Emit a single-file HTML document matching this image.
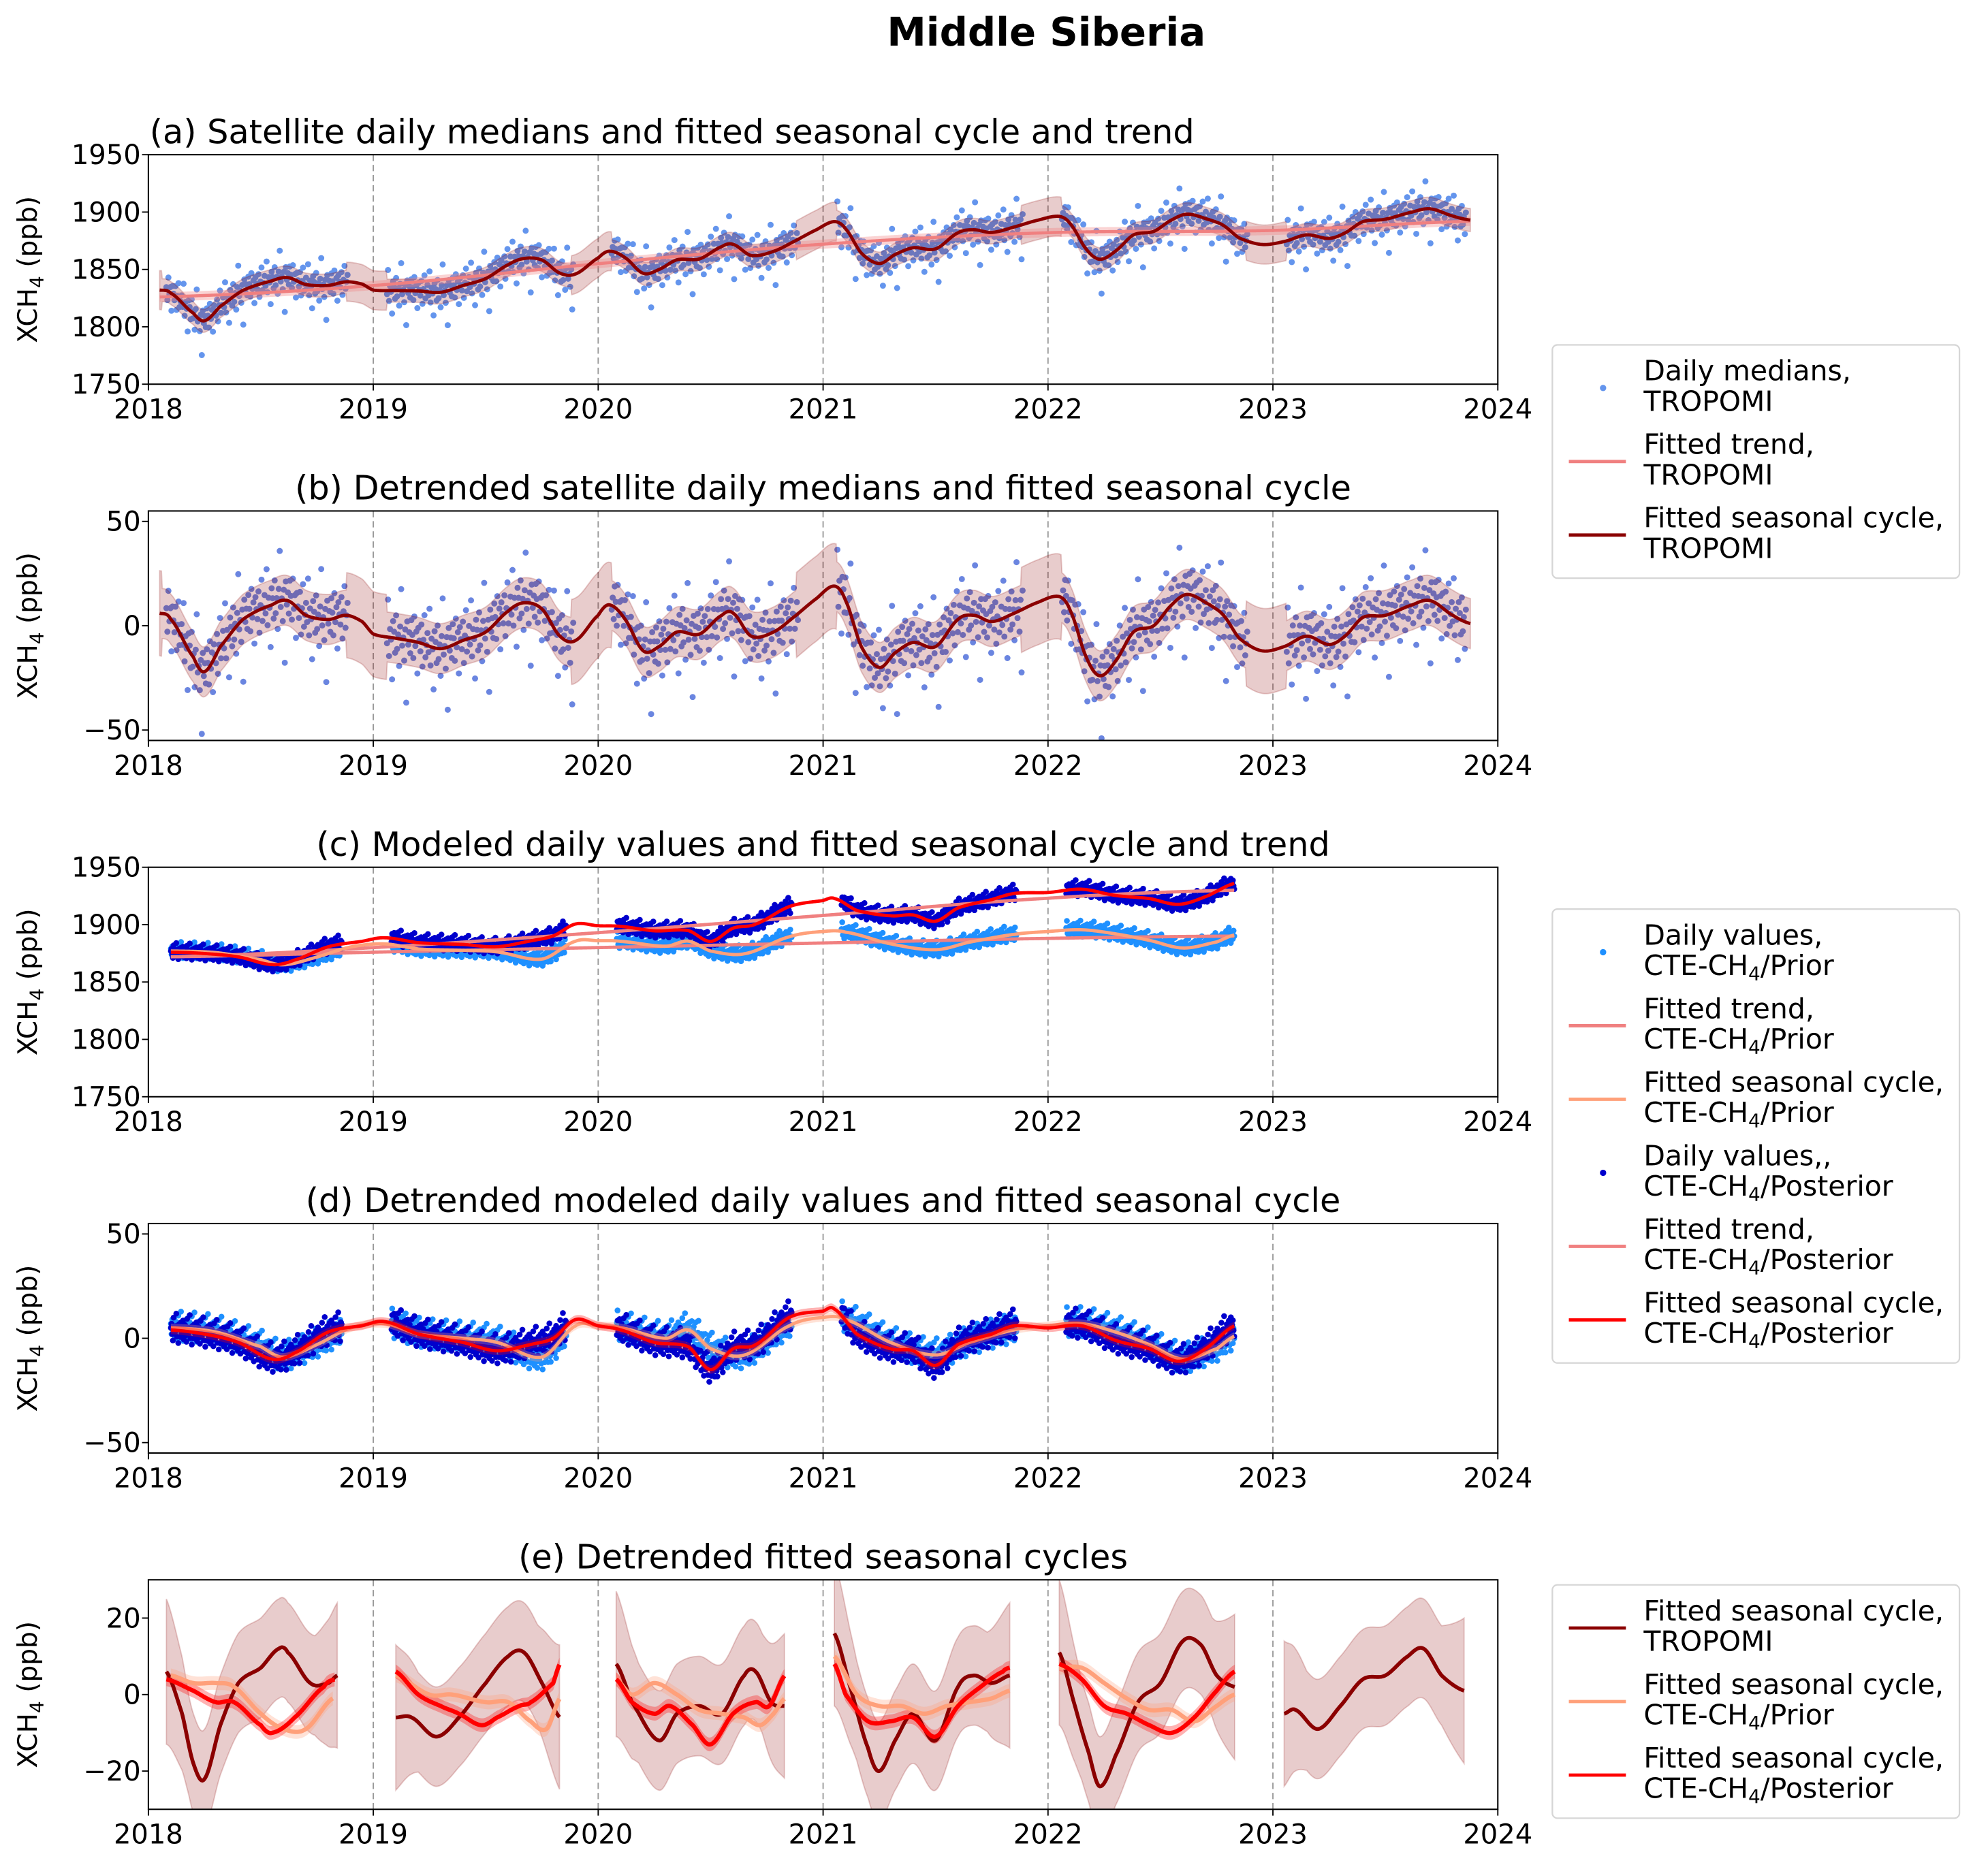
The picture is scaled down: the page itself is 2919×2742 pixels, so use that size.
<!DOCTYPE html>
<html><head><meta charset="utf-8"><style>
html,body{margin:0;padding:0;background:#fff;}
svg{display:block;font-family:"DejaVu Sans","Liberation Sans",sans-serif;}
</style></head><body>
<svg id="fig" width="2919" height="2742" viewBox="0 0 1567.5 1472.5" preserveAspectRatio="none" xmlns="http://www.w3.org/2000/svg">
<rect width="1570" height="1475" fill="#fff"/>
<text x="825" y="36" font-size="31" font-weight="bold" text-anchor="middle">Middle Siberia</text>
<g id="plots"></g>
<g id="legends"></g>
</svg>
<script>
// ---------- data ----------
const tropoSeasT = [2018.05,2018.1,2018.2,2018.25,2018.32,2018.42,2018.55,2018.62,2018.7,2018.8,2018.88,2018.95,2019.0,2019.1,2019.2,2019.3,2019.4,2019.5,2019.6,2019.67,2019.75,2019.83,2019.9,2020.0,2020.05,2020.12,2020.2,2020.27,2020.35,2020.45,2020.55,2020.6,2020.68,2020.78,2020.88,2020.97,2021.05,2021.1,2021.17,2021.25,2021.32,2021.4,2021.5,2021.6,2021.67,2021.75,2021.85,2021.95,2022.05,2022.1,2022.17,2022.23,2022.3,2022.38,2022.47,2022.55,2022.62,2022.72,2022.78,2022.85,2022.95,2023.05,2023.15,2023.25,2023.32,2023.4,2023.5,2023.62,2023.7,2023.8,2023.88];
const tropoSeasV = [6,3,-15,-22,-10,3,10,12,5,3,5,2,-4,-6,-8,-11,-7,-3,7,11,8,-5,-7,5,10,3,-12,-10,-3,-4,5,6,-5,-3,5,13,19,12,-10,-20,-13,-8,-10,3,5,2,6,11,14,7,-15,-24,-17,-3,0,10,15,10,5,-6,-12,-10,-5,-9,-5,4,5,10,12,5,1];
const tropoTrendT = [2018.05,2019,2020,2021,2022,2023,2023.88];
const tropoTrendV = [1826,1836,1855,1872,1882,1884,1892];
const priorTrendT = [2018.1,2019,2020,2021,2022,2022.83];
const priorTrendV = [1872,1876,1880,1884,1888,1890];
const postTrendT = [2018.1,2019,2020,2021,2022,2022.83];
const postTrendV = [1872,1880,1893,1908,1923,1930];
const postSeasT = [2018.1,2018.25,2018.4,2018.55,2018.65,2018.8,2018.95,2019.05,2019.2,2019.4,2019.55,2019.7,2019.8,2019.9,2020.0,2020.1,2020.25,2020.4,2020.5,2020.6,2020.7,2020.85,2021.0,2021.05,2021.15,2021.3,2021.4,2021.5,2021.6,2021.75,2021.85,2022.0,2022.15,2022.3,2022.45,2022.58,2022.7,2022.83];
const postSeasV = [4,2,-2,-10,-7,3,6,8,2,-2,-6,-3,0,9,6,4,-2,-4,-15,-5,-3,10,13,14,2,-5,-6,-13,-3,2,6,5,6,-1,-5,-11,-5,6];
const priorSeasT = [2018.1,2018.3,2018.5,2018.6,2018.75,2018.9,2019.05,2019.2,2019.4,2019.55,2019.75,2019.9,2020.0,2020.1,2020.3,2020.4,2020.5,2020.65,2020.85,2021.0,2021.1,2021.3,2021.5,2021.65,2021.85,2022.0,2022.15,2022.3,2022.45,2022.6,2022.75,2022.83];
const priorSeasV = [5,3,-4,-9,-3,5,7,2,0,-2,-9,6,6,5,0,4,-5,-8,6,10,9,-2,-8,-2,4,6,7,3,-3,-10,-5,1];
// residual scatter (ppb), cycled along observation days
const tropoResid = [3,-8,12,-2,5,-15,7,1,-4,9,-11,2,14,-6,0,6,-3,18,-9,4,-1,-20,8,3,-7,11,-5,2,-13,6,24,-3,1,-10,5,-30,9,-2,4,-6,10];
const modelResid = [2,-3,4,-1,0,5,-4,1,3,-2,-5,6,0,-1,2,8,-3,1,-6,3];
// panel (e): separate annual fits
const eTropo = {
 2018:[[.08,6],[.15,-5],[.2,-18],[.25,-22],[.32,-8],[.4,3],[.5,7],[.58,12],[.62,11],[.72,3],[.8,3],[.84,5]],
 2019:[[.1,-6],[.17,-6],[.28,-11],[.38,-6],[.5,3],[.6,10],[.67,11],[.75,3],[.83,-6]],
 2020:[[.08,8],[.15,-2],[.27,-12],[.35,-5],[.45,-3],[.55,-5],[.65,5],[.7,6],[.77,-2],[.83,-3]],
 2021:[[.05,16],[.12,2],[.2,-14],[.25,-20],[.32,-12],[.4,-5],[.5,-12],[.6,2],[.67,5],[.75,3],[.83,5]],
 2022:[[.05,11],[.12,-3],[.18,-15],[.23,-24],[.3,-16],[.4,-2],[.5,3],[.6,14],[.68,13],[.75,5],[.83,2]],
 2023:[[.05,-5],[.1,-4],[.2,-9],[.3,-3],[.4,4],[.5,5],[.6,10],[.67,12],[.75,5],[.85,1]]};
const ePrior = {
 2018:[[.1,5],[.2,3],[.3,3],[.38,2],[.5,-5],[.6,-9],[.7,-9],[.82,-1]],
 2019:[[.1,5],[.25,0],[.35,0],[.5,-2],[.6,-2],[.7,-7],[.77,-9],[.83,-1]],
 2020:[[.08,4],[.15,0],[.25,3],[.35,0],[.45,-4],[.55,-5],[.65,-6],[.72,-8],[.78,-5],[.83,-1]],
 2021:[[.05,10],[.15,0],[.25,-3],[.35,-3],[.45,-5],[.55,-3],[.65,-2],[.75,-1],[.83,1]],
 2022:[[.05,7],[.15,7],[.25,3],[.35,-1],[.45,-4],[.55,-4],[.65,-7],[.75,-3],[.83,0]]};
const ePost = {
 2018:[[.08,4],[.2,1],[.3,-2],[.38,-2],[.5,-8],[.55,-10],[.65,-6],[.78,2],[.83,4]],
 2019:[[.1,6],[.2,0],[.3,-3],[.38,-5],[.48,-8],[.55,-6],[.65,-3],[.7,-2],[.8,3],[.83,8]],
 2020:[[.08,4],[.15,-2],[.25,-5],[.32,-3],[.42,-8],[.5,-13],[.6,-5],[.7,-2],[.76,-3],[.83,5]],
 2021:[[.05,8],[.1,0],[.2,-7],[.3,-7],[.4,-6],[.5,-11],[.6,-3],[.7,2],[.8,6],[.83,7]],
 2022:[[.05,8],[.15,4],[.25,-3],[.35,-5],[.45,-8],[.55,-10],[.65,-6],[.75,1],[.83,6]]};
const xTicks = [2018,2019,2020,2021,2022,2023,2024];
const ticksLevel = [1750,1800,1850,1900,1950];
const ticksDetr = [-50,0,50];
const ticksE = [-20,0,20];

// ---------- helpers ----------
const NS='http://www.w3.org/2000/svg';
const plots=document.getElementById('plots');
const TICKF=21.5, TITLEF=26.5, YLF=21, LEGF=22;
function mk(tag,attrs,parent){const e=document.createElementNS(NS,tag);for(const k in attrs)e.setAttribute(k,attrs[k]);(parent||plots).appendChild(e);return e;}
function interp(xs,ys,t){
  if(t<=xs[0])return ys[0]; const n=xs.length; if(t>=xs[n-1])return ys[n-1];
  let i=0; while(t>xs[i+1])i++;
  const p0=ys[Math.max(i-1,0)],p1=ys[i],p2=ys[i+1],p3=ys[Math.min(i+2,n-1)];
  const u=(t-xs[i])/(xs[i+1]-xs[i]);
  const u2=u*u,u3=u2*u;
  return 0.5*((2*p1)+(-p0+p2)*u+(2*p0-5*p1+4*p2-p3)*u2+(-p0+3*p1-3*p2+p3)*u3);
}
const X0=117,X1=1181;
const xs=t=>X0+(t-2018)*(X1-X0)/6;
function panel(top,bot,ymin,ymax){return {top,bot,y:v=>bot-(v-ymin)*(bot-top)/(ymax-ymin)};}
const P={a:panel(122,303,1750,1950),b:panel(403,584,-55,55),c:panel(684,865,1750,1950),d:panel(965,1146,-55,55),e:panel(1246,1427,-30,30)};

function frame(key,name,yticks,title,titleX,anchor,gridYears){
  const p=P[key];
  const cp=mk('clipPath',{id:'clip-'+key});
  mk('rect',{x:X0,y:p.top,width:X1-X0,height:p.bot-p.top},cp);
  const g=mk('g',{'clip-path':'url(#clip-'+key+')'});
  
  
  gridYears.forEach(yr=>{const l=mk('line',{x1:xs(yr),x2:xs(yr),y1:p.top,y2:p.bot,stroke:'#999','stroke-width':1,'stroke-dasharray':'5,3'},g);
    
    });
  const t=mk('text',{x:titleX,y:p.top-9,'font-size':TITLEF,'text-anchor':anchor});t.textContent=title;
  
  
  yticks.forEach(v=>{mk('line',{x1:X0-5,x2:X0,y1:p.y(v),y2:p.y(v),stroke:'#000','stroke-width':1});
    const tx=mk('text',{x:X0-6,y:p.y(v)+7.5,'font-size':TICKF,'text-anchor':'end'});tx.textContent=v<0?'\u2212'+(-v):v;
    
    });
  xTicks.forEach(v=>{mk('line',{x1:xs(v),x2:xs(v),y1:p.bot,y2:p.bot+5,stroke:'#000','stroke-width':1});
    const tx=mk('text',{x:xs(v),y:p.bot+27,'font-size':TICKF,'text-anchor':'middle'});tx.textContent=v;
    
    });
  const yl=mk('text',{x:0,y:0,'font-size':YLF,'text-anchor':'middle',transform:`translate(29,${(p.top+p.bot)/2}) rotate(-90)`});
  yl.innerHTML='XCH<tspan font-size="15" dy="5">4</tspan><tspan dy="-5"> (ppb)</tspan>';
  
  
  return g;
}
function border(key){const p=P[key];const r=mk('rect',{x:X0,y:p.top,width:X1-X0,height:p.bot-p.top,fill:'none',stroke:'#000','stroke-width':1.1});
  
  }
function pathFrom(fn,t0,t1,yf){let d='';for(let t=t0;t<=t1+1e-9;t+=0.004){d+=(d?'L':'M')+xs(t).toFixed(2)+','+yf(fn(t)).toFixed(2);}return d;}
function bandFrom(fn,hw,t0,t1,yf){let up=[],dn=[];for(let t=t0;t<=t1+1e-9;t+=0.004){const v=fn(t),h=hw(t);up.push(xs(t).toFixed(2)+','+yf(v+h).toFixed(2));dn.push(xs(t).toFixed(2)+','+yf(v-h).toFixed(2));}
  return 'M'+up.join('L')+'L'+dn.reverse().join('L')+'Z';}
function obsDays(t0,t1,step,lo,hi){const out=[];for(let t=t0;t<=t1;t+=step){const f=t-Math.floor(t);if(f>=lo&&f<=hi)out.push(t);}return out;}

const tSeas=t=>interp(tropoSeasT,tropoSeasV,t);
const tTrend=t=>interp(tropoTrendT,tropoTrendV,t);
const prT=t=>interp(priorTrendT,priorTrendV,t);
const poT=t=>interp(postTrendT,postTrendV,t);
const prS=t=>interp(priorSeasT,priorSeasV,t);
const poS=t=>interp(postSeasT,postSeasV,t);
const gapHW=(base)=>t=>{const f=t-Math.floor(t);return (f>0.88||f<0.06)?base*1.7:base;};

// ---------- panel a ----------
let g=frame('a','panel-a',ticksLevel,'(a) Satellite daily medians and fitted seasonal cycle and trend',118,'start',[2019,2020,2021,2022,2023]);
const tropoDays=obsDays(2018.08,2023.86,0.0045,0.06,0.89);
tropoDays.forEach((t,i)=>{const c=mk('circle',{cx:xs(t),cy:P.a.y(tTrend(t)+tSeas(t)+tropoResid[i%tropoResid.length]),r:2.4,fill:'#6495ED'},g);
  
  });
let e=mk('path',{d:bandFrom(t=>tTrend(t)+tSeas(t),gapHW(10),2018.05,2023.88,P.a.y),fill:'#8B0000','fill-opacity':0.2,stroke:'#8B0000','stroke-opacity':0.2},g);


e=mk('path',{d:bandFrom(tTrend,()=>4,2018.05,2023.88,P.a.y),fill:'#F08080','fill-opacity':0.35},g);


e=mk('path',{d:pathFrom(tTrend,2018.05,2023.88,P.a.y),fill:'none',stroke:'#F08080','stroke-width':2.4},g);


e=mk('path',{d:pathFrom(t=>tTrend(t)+tSeas(t),2018.05,2023.88,P.a.y),fill:'none',stroke:'#8B0000','stroke-width':2.6},g);


border('a');

// ---------- panel b ----------
g=frame('b','panel-b',ticksDetr,'(b) Detrended satellite daily medians and fitted seasonal cycle',649,'middle',[2019,2020,2021,2022,2023]);
tropoDays.forEach((t,i)=>{const c=mk('circle',{cx:xs(t),cy:P.b.y(tSeas(t)+tropoResid[i%tropoResid.length]),r:2.4,fill:'#6a85e0'},g);
  
  });
e=mk('path',{d:bandFrom(tSeas,gapHW(12),2018.05,2023.88,P.b.y),fill:'#8B0000','fill-opacity':0.2,stroke:'#8B0000','stroke-opacity':0.2},g);


e=mk('path',{d:pathFrom(tSeas,2018.05,2023.88,P.b.y),fill:'none',stroke:'#8B0000','stroke-width':2.6},g);


border('b');

// ---------- panel c ----------
g=frame('c','panel-c',ticksLevel,'(c) Modeled daily values and fitted seasonal cycle and trend',649,'middle',[2019,2020,2021,2022,2023]);
const modelDays=obsDays(2018.1,2022.83,0.003,0.08,0.86);
modelDays.forEach((t,i)=>{const c=mk('circle',{cx:xs(t),cy:P.c.y(prT(t)+prS(t)+modelResid[i%modelResid.length]),r:2.3,fill:'#1E90FF'},g);
  
  });
modelDays.forEach((t,i)=>{const c=mk('circle',{cx:xs(t),cy:P.c.y(poT(t)+poS(t)+modelResid[(i+7)%modelResid.length]),r:2.3,fill:'#0000CD'},g);
  
  });
[[prT,'#F08080','prior-trend-line'],[poT,'#F08080','posterior-trend-line'],[t=>prT(t)+prS(t),'#FFA07A','prior-seasonal-line'],[t=>poT(t)+poS(t),'#FF0000','posterior-seasonal-line']].forEach(s=>{
  const l=mk('path',{d:pathFrom(s[0],2018.1,2022.83,P.c.y),fill:'none',stroke:s[1],'stroke-width':2.6},g);
  
  });
border('c');

// ---------- panel d ----------
g=frame('d','panel-d',ticksDetr,'(d) Detrended modeled daily values and fitted seasonal cycle',649,'middle',[2019,2020,2021,2022,2023]);
modelDays.forEach((t,i)=>{const c=mk('circle',{cx:xs(t),cy:P.d.y(prS(t)+modelResid[i%modelResid.length]),r:2.3,fill:'#1E90FF'},g);
  
  });
modelDays.forEach((t,i)=>{const c=mk('circle',{cx:xs(t),cy:P.d.y(poS(t)+modelResid[(i+7)%modelResid.length]),r:2.3,fill:'#0000CD'},g);
  
  });
[[prS,'#FFA07A','prior-seasonal-line'],[poS,'#FF0000','posterior-seasonal-line']].forEach(s=>{
  const b=mk('path',{d:bandFrom(s[0],()=>2,2018.1,2022.83,P.d.y),fill:s[1],'fill-opacity':0.3},g);
  
  
  const l=mk('path',{d:pathFrom(s[0],2018.1,2022.83,P.d.y),fill:'none',stroke:s[1],'stroke-width':2.6},g);
  
  });
border('d');

// ---------- panel e ----------
g=frame('e','panel-e',ticksE,'(e) Detrended fitted seasonal cycles',649,'middle',[2019,2020,2021,2022,2023]);
function seg(obj,yr){const a=obj[yr];const ts=a.map(p=>+yr+p[0]),vs=a.map(p=>p[1]);return {f:t=>interp(ts,vs,t),t0:ts[0],t1:ts[ts.length-1]};}
Object.keys(eTropo).forEach(yr=>{const s=seg(eTropo,yr);
  const b=mk('path',{d:bandFrom(s.f,t=>{const d=Math.min(t-s.t0,s.t1-t);return 13+Math.max(0,0.1-d)*60;},s.t0,s.t1,P.e.y),fill:'#8B0000','fill-opacity':0.2,stroke:'#8B0000','stroke-opacity':0.2},g);
  
  });
[[ePrior,'#FFA07A','prior'],[ePost,'#FF0000','posterior']].forEach(sr=>{Object.keys(sr[0]).forEach(yr=>{const s=seg(sr[0],yr);
  const b=mk('path',{d:bandFrom(s.f,()=>1.8,s.t0,s.t1,P.e.y),fill:sr[1],'fill-opacity':0.3},g);
  
  });});
Object.keys(eTropo).forEach(yr=>{const s=seg(eTropo,yr);
  const l=mk('path',{d:pathFrom(s.f,s.t0,s.t1,P.e.y),fill:'none',stroke:'#8B0000','stroke-width':3},g);
  
  });
[[ePrior,'#FFA07A','prior'],[ePost,'#FF0000','posterior']].forEach(sr=>{Object.keys(sr[0]).forEach(yr=>{const s=seg(sr[0],yr);
  const l=mk('path',{d:pathFrom(s.f,s.t0,s.t1,P.e.y),fill:'none',stroke:sr[1],'stroke-width':3.4},g);
  
  });});
border('e');

// ---------- legends ----------
const LG=document.getElementById('legends');
function legend(name,top,entries){
  const h=entries.length*58+10;
  const box=mk('rect',{x:1224,y:top,width:321,height:h,rx:4,fill:'#fff',stroke:'#d6d6d6','stroke-width':1.2},LG);
  
  
  entries.forEach((en,i)=>{
    const y0=top+28+i*58;
    if(en.type==='dot'){const c=mk('circle',{cx:1264,cy:y0+6,r:2.5,fill:en.color},LG);
      
      }
    else{const l=mk('line',{x1:1237,x2:1282,y1:y0+6,y2:y0+6,stroke:en.color,'stroke-width':2.6},LG);
      
      }
    const t=mk('text',{x:1296,y:y0,'font-size':LEGF},LG);
    t.innerHTML=`<tspan x="1296">${en.l1}</tspan><tspan x="1296" dy="24">${en.l2}</tspan>`;
    
    
  });
}
const CTE=s=>`CTE-CH<tspan font-size="15" dy="4">4</tspan><tspan dy="-4">/${s}</tspan>`;
legend('legend-satellite',272,[
 {type:'dot',color:'#6495ED',l1:'Daily medians,',l2:'TROPOMI'},
 {type:'line',color:'#F08080',l1:'Fitted trend,',l2:'TROPOMI'},
 {type:'line',color:'#8B0000',l1:'Fitted seasonal cycle,',l2:'TROPOMI'}]);
legend('legend-model',717,[
 {type:'dot',color:'#1E90FF',l1:'Daily values,',l2:CTE('Prior')},
 {type:'line',color:'#F08080',l1:'Fitted trend,',l2:CTE('Prior')},
 {type:'line',color:'#FFA07A',l1:'Fitted seasonal cycle,',l2:CTE('Prior')},
 {type:'dot',color:'#0000CD',l1:'Daily values,,',l2:CTE('Posterior')},
 {type:'line',color:'#F08080',l1:'Fitted trend,',l2:CTE('Posterior')},
 {type:'line',color:'#FF0000',l1:'Fitted seasonal cycle,',l2:CTE('Posterior')}]);
legend('legend-seasonal',1250,[
 {type:'line',color:'#8B0000',l1:'Fitted seasonal cycle,',l2:'TROPOMI'},
 {type:'line',color:'#FFA07A',l1:'Fitted seasonal cycle,',l2:CTE('Prior')},
 {type:'line',color:'#FF0000',l1:'Fitted seasonal cycle,',l2:CTE('Posterior')}]);
</script>
</body></html>
